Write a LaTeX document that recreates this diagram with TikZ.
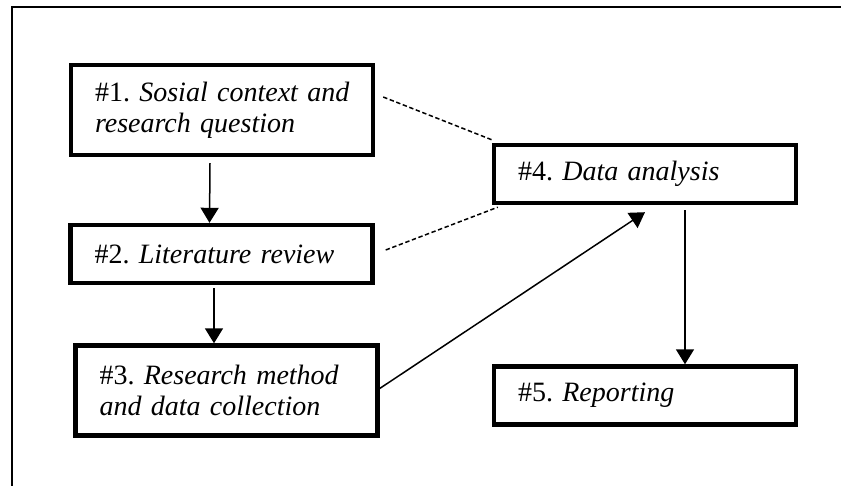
\documentclass[tikz,border=0pt]{standalone}
\usepackage{fontspec}
\setmainfont{Liberation Serif}
\usetikzlibrary{arrows.meta}

\begin{document}
\begin{tikzpicture}[x=0.5pt,y=-0.5pt,
		stage/.style={draw,line width=2.2pt,minimum height=29pt,inner xsep=12pt,inner ysep=0pt,text width=127pt,align=left,font=\fontsize{14}{15.5}\selectfont\frenchspacing},
		flow/.style={line width=0.75pt,-{Triangle[length=7.5pt,width=9pt]}},
		link/.style={line width=0.75pt,dash pattern=on 2.2pt off 1.3pt}]
				\useasboundingbox (0,0) rectangle (841,486);
				\clip (0,0) rectangle (841,486);
				\draw[line width=1pt] (12,500) -- (12,7) -- (850,7);
				\node[stage,minimum height=45pt] (context) at (222,110) {\mbox{\#1. \textit{Sosial context and}}\\\mbox{\textit{research question}}};
				\node[stage] (review) at (221.5,254) {\mbox{\#2. \textit{Literature review}}};
				\node[stage,minimum height=45pt] (method) at (226.5,390.5) {\mbox{\#3. \textit{Research method}}\\\mbox{\textit{and data collection}}};
				\node[stage] (analysis) at (645,174) {\mbox{\#4. \textit{Data analysis}}};
				\node[stage] (report) at (645,395.5) {\mbox{\#5. \textit{Reporting}}};
				\draw[flow] ([xshift=-6pt,yshift=-3pt]context.south) -- ([xshift=-6pt]review.north);
				\draw[flow] ([xshift=-3.75pt,yshift=-1.5pt]review.south) -- ([xshift=-6.25pt]method.north);
				\draw[flow] ([yshift=1pt]method.east) -- ([yshift=-3.5pt]analysis.south);
				\draw[flow] ([xshift=20pt,yshift=-2.5pt]analysis.south) -- ([xshift=20pt]report.north);
				\draw[link] ([xshift=4pt,yshift=6.5pt]context.east) -- ([yshift=1.5pt]analysis.north west);
				\draw[link] ([xshift=5.5pt,yshift=2pt]review.east) -- ([xshift=3pt,yshift=-1pt]analysis.south west);
			\end{tikzpicture}
\end{document}
